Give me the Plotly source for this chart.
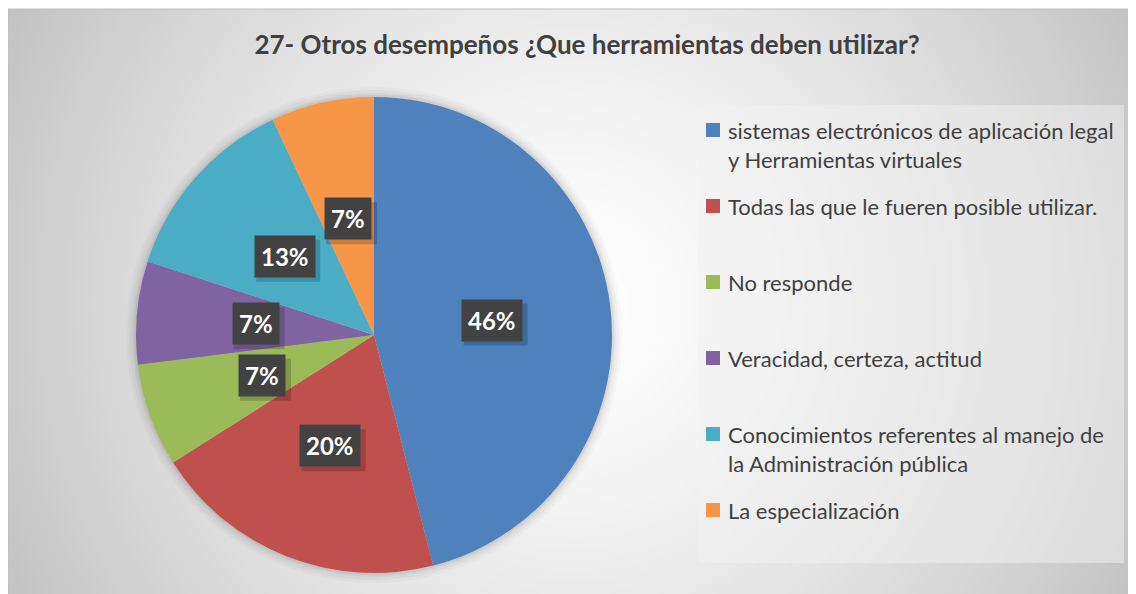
import base64, struct, zlib
import numpy as np
import plotly.graph_objects as go

# ---------------- data ----------------
title = "27- Otros desempeños ¿Que herramientas deben utilizar?"
categories = [
    "sistemas electrónicos de aplicación legal<br>y Herramientas virtuales",
    "Todas las que le fueren posible utilizar.",
    "No responde",
    "Veracidad, certeza, actitud",
    "Conocimientos referentes al manejo de<br>la Administración pública",
    "La especialización",
]
values = [46, 20, 7, 7, 13, 7]
colors = ["#4f81bd", "#c0504d", "#9bbb59", "#8064a2", "#4bacc6", "#f79646"]

W, H = 1136, 594
OFF = 8  # page body margin offset


def X(p):
    return (p - OFF) / W


def Y(p):
    return 1 - (p - OFF) / H


# ---------------- background gradient image ----------------
def make_png(arr):
    h, w, _ = arr.shape
    raw = b"".join(b"\x00" + arr[r].astype(np.uint8).tobytes() for r in range(h))

    def chunk(t, d):
        return struct.pack(">I", len(d)) + t + d + struct.pack(">I", zlib.crc32(t + d) & 0xffffffff)
    return (b"\x89PNG\r\n\x1a\n" + chunk(b"IHDR", struct.pack(">IIBBBBB", w, h, 8, 2, 0, 0, 0))
            + chunk(b"IDAT", zlib.compress(raw, 9)) + chunk(b"IEND", b""))


AX0, AY0, AX1, AY1 = 8, 9, 1136, 594
aw, ah = (AX1 - AX0) // 4, (AY1 - AY0) // 4
yy, xx = np.mgrid[0:ah, 0:aw]
px = xx * 4.0
py = yy * 4.0
cx, cy = (AX1 - AX0) / 2, (AY1 - AY0) / 2
d = np.sqrt((px - cx) ** 2 + (py - cy) ** 2) / np.sqrt(cx ** 2 + cy ** 2)
g = 255 - 60 * np.clip(d, 0, 1) ** 1.4
img = np.stack([g, g, g], axis=-1)
src = "data:image/png;base64," + base64.b64encode(make_png(img)).decode()

# ---------------- pie geometry ----------------
PCX, PCY, PR = 374, 335, 238
dom_x = [X(PCX - PR), X(PCX + PR)]
dom_y = [Y(PCY + PR), Y(PCY - PR)]

fig = go.Figure()
fig.add_trace(go.Pie(
    labels=categories,
    values=values,
    sort=False,
    direction="clockwise",
    rotation=0,
    marker=dict(colors=colors, line=dict(width=0)),
    textinfo="none",
    hoverinfo="label+percent",
    domain=dict(x=dom_x, y=dom_y),
    showlegend=False,
))

annotations = []
shapes = [
    # chart area border
    dict(type="rect", xref="paper", yref="paper", x0=X(AX0), x1=X(AX1 + 20), y0=Y(AY1 + 20), y1=Y(AY0),
         line=dict(color="#bdbdbd", width=1), fillcolor="rgba(0,0,0,0)", layer="below"),
    # legend box
    dict(type="rect", xref="paper", yref="paper", x0=X(698), x1=X(1124), y0=Y(563), y1=Y(105),
         line=dict(width=0), fillcolor="rgba(241,241,241,0.5)", layer="below"),
]
# soft glow around the pie
for k, a in [(10, 0.025), (7, 0.03), (4, 0.04), (2, 0.05)]:
    shapes.append(dict(type="circle", xref="paper", yref="paper",
                       x0=X(PCX - PR - k), x1=X(PCX + PR + k),
                       y0=Y(PCY + PR + k), y1=Y(PCY - PR - k),
                       line=dict(width=0), fillcolor=f"rgba(0,0,0,{a})", layer="below"))

# ---------------- data labels ----------------
total = sum(values)
cum = 0
for v in values:
    ang = 2 * np.pi * (cum + v / 2) / total
    cum += v
    lx = PCX + 0.5 * PR * np.sin(ang)
    ly = PCY - 0.5 * PR * np.cos(ang)
    txt = f"{v}%"
    bw = 37 + 13 * (len(txt) - 1)
    shapes.append(dict(type="rect", xref="paper", yref="paper", xsizemode="pixel", ysizemode="pixel",
                       xanchor=X(lx), yanchor=Y(ly), x0=-bw / 2 + 3, x1=bw / 2 + 4, y0=-20.5 - 5, y1=20.5 - 4,
                       line=dict(width=0), fillcolor="rgba(0,0,0,0.18)", layer="above"))
    annotations.append(dict(x=X(lx), y=Y(ly), xref="paper", yref="paper", showarrow=False,
                            xanchor="center", yanchor="middle",
                            text=f"<b>{txt}</b>", bgcolor="#424242", borderpad=6,
                            font=dict(family="Lato", size=24, color="white")))

# ---------------- legend (manual, Excel-like spacing) ----------------
LFS = 22
LEG_BASE0, LEG_STEP = 137, 76
for i, (lab, col) in enumerate(zip(categories, colors)):
    base = LEG_BASE0 + LEG_STEP * i
    shapes.append(dict(type="rect", xref="paper", yref="paper", x0=X(706), x1=X(720),
                       y0=Y(base), y1=Y(base - 14), line=dict(width=0), fillcolor=col, layer="above"))
    annotations.append(dict(x=X(726), y=Y(base - 0.95 * LFS - 1), xref="paper", yref="paper",
                            showarrow=False, xanchor="left", yanchor="top", align="left",
                            text=lab, font=dict(family="Lato", size=LFS, color="#404040")))

fig.update_layout(
    width=W, height=H,
    margin=dict(l=0, r=0, t=0, b=0),
    paper_bgcolor="white",
    plot_bgcolor="rgba(0,0,0,0)",
    title=dict(text=f"<b>{title}</b>", x=X(587), xanchor="center", y=Y(45), yanchor="middle",
               font=dict(family="Lato", size=26, color="#404040")),
    showlegend=False,
    images=[dict(source=src, xref="paper", yref="paper", x=X(AX0), y=Y(AY0),
                 sizex=(AX1 - AX0) / W, sizey=(AY1 - AY0) / H, xanchor="left", yanchor="top",
                 sizing="stretch", layer="below")],
    shapes=shapes,
    annotations=annotations,
)

fig.write_html("out.html")
